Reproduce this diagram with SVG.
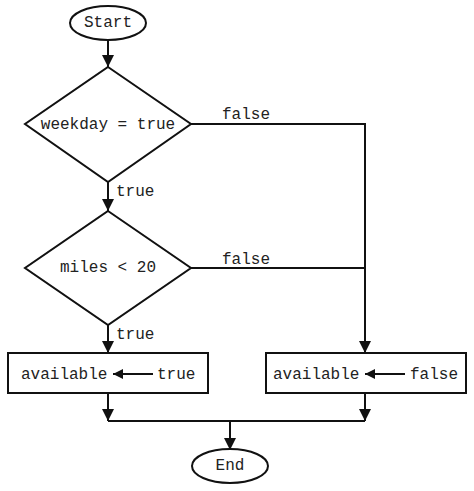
<svg xmlns="http://www.w3.org/2000/svg" width="474" height="491" viewBox="0 0 474 491">
<style>
.s{fill:#fff;stroke:#111;stroke-width:2}
.c{fill:none;stroke:#111;stroke-width:2}
text{font-family:"Liberation Mono","Courier New",monospace;font-size:16px;fill:#222}
.m{text-anchor:middle;dominant-baseline:central}
</style>
<defs>
<marker id="a" viewBox="0 0 10 10" refX="10" refY="5" markerWidth="10" markerHeight="10" markerUnits="userSpaceOnUse" orient="auto">
<path d="M0,0 L10,5 L0,10 Z" fill="#111"/>
</marker>
<marker id="b" viewBox="0 0 12 12" refX="12" refY="6" markerWidth="12" markerHeight="12" markerUnits="userSpaceOnUse" orient="auto">
<path d="M0,0 L12,6 L0,12 Z" fill="#111"/>
</marker>
</defs>
<g id="connectors">
<path class="c" d="M108,40 V67" marker-end="url(#b)"/>
<path class="c" d="M108,182 V211" marker-end="url(#b)"/>
<text x="116" y="196">true</text>
<path class="c" d="M108,325 V353" marker-end="url(#b)"/>
<text x="116" y="339">true</text>
<path class="c" d="M191,124 H365 V353" marker-end="url(#b)"/>
<text x="222" y="119">false</text>
<path class="c" d="M191,268 H365"/>
<text x="222" y="264">false</text>
<path class="c" d="M108,393 V421" marker-end="url(#b)"/>
<path class="c" d="M365,393 V421" marker-end="url(#b)"/>
<path class="c" d="M108,421 H365"/>
<path class="c" d="M230,421 V450" marker-end="url(#b)"/>
</g>
<g id="start">
<ellipse class="s" cx="108" cy="23" rx="38" ry="17"/>
<text class="m" x="108" y="23">Start</text>
</g>
<g id="weekday">
<polygon class="s" points="108,67 191,124 108,182 25,124"/>
<text class="m" x="108" y="125">weekday = true</text>
</g>
<g id="miles">
<polygon class="s" points="108,211 191,268 108,325 25,268"/>
<text class="m" x="108" y="268">miles &lt; 20</text>
</g>
<g id="avail-true">
<rect class="s" x="8" y="353" width="200" height="40"/>
<text x="21" y="379">available</text>
<path class="c" d="M153,374 H113" marker-end="url(#a)"/>
<text x="157" y="379">true</text>
</g>
<g id="avail-false">
<rect class="s" x="266" y="353" width="200" height="40"/>
<text x="273" y="379">available</text>
<path class="c" d="M405,374 H365" marker-end="url(#a)"/>
<text x="410" y="379">false</text>
</g>
<g id="end">
<ellipse class="s" cx="230" cy="466" rx="38" ry="17"/>
<text class="m" x="230" y="466">End</text>
</g>
</svg>
